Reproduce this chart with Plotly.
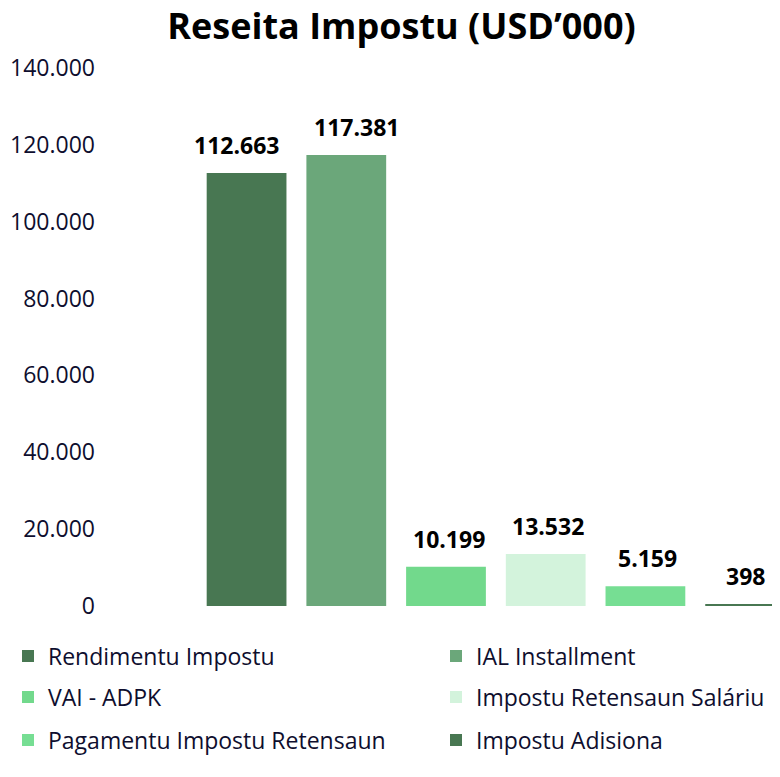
import plotly.graph_objects as go

# revenue by tax type, USD'000
categories = [
    "Rendimentu Impostu",
    "IAL Installment",
    "VAI - ADPK",
    "Impostu Retensaun Saláriu",
    "Pagamentu Impostu Retensaun",
    "Impostu Adisiona",
]
values = [112663, 117381, 10199, 13532, 5159, 398]

COLORS = ["#487752", "#6BA77A", "#72D98C", "#D3F3DC", "#76DE93", "#487752"]
LABEL_XSHIFT = [-10, 10, 3, 2, 2, 0]  # excel nudged the first two labels apart

# legend grid: two columns, three rows (figure pixels; page has an 8px body margin)
LEG_COL_X = [0, 428]
LEG_ROW_Y = [648, 689, 732]

FONT = "Open Sans"
TEXT_COLOR = "#0E0E2E"
W, H = 780, 777

fig = go.Figure()

legend_layouts = {}
for i, (name, val) in enumerate(zip(categories, values)):
    key = "legend" if i == 0 else f"legend{i + 1}"
    fig.add_trace(go.Bar(
        x=[i],
        y=[val],
        name=name,
        width=0.8,
        marker=dict(color=COLORS[i], line=dict(width=0)),
        legend=key,
        hovertemplate="%{y:,.0f}<extra>" + name + "</extra>",
    ))
    fig.add_annotation(
        x=i, y=val, text=f"<b>{val:,.0f}</b>".replace(",", "."),
        showarrow=False, yanchor="bottom", yshift=10, xshift=LABEL_XSHIFT[i],
        font=dict(family=FONT, size=23, color="black"),
    )
    legend_layouts[key] = dict(
        xref="container", yref="container",
        x=LEG_COL_X[i % 2] / W, xanchor="left",
        y=1 - LEG_ROW_Y[i // 2] / H, yanchor="middle",
        orientation="h",
        font=dict(family=FONT, size=23, color=TEXT_COLOR),
        itemwidth=30,
        bgcolor="rgba(0,0,0,0)",
    )

fig.update_layout(
    width=W, height=H,
    separators=",.",
    barmode="overlay",
    plot_bgcolor="white",
    paper_bgcolor="white",
    margin=dict(l=92, r=0, t=60, b=179),
    title=dict(
        text="<b>Reseita Impostu (USD’000)</b>",
        x=0.5045, xref="container", xanchor="center",
        y=1 - 18 / H, yref="container", yanchor="middle",
        font=dict(family=FONT, size=36, color="black"),
    ),
    xaxis=dict(
        range=[-1.47, 5.43],
        showticklabels=False, showgrid=False, zeroline=False, showline=False,
        fixedrange=True,
    ),
    yaxis=dict(
        range=[0, 140000],
        dtick=20000,
        tickformat=",.0f",
        showgrid=False, zeroline=False, showline=False,
        tickfont=dict(family=FONT, size=23, color=TEXT_COLOR),
        ticklabelstandoff=4,
    ),
    showlegend=True,
    **legend_layouts,
)

fig.write_html("out.html")
